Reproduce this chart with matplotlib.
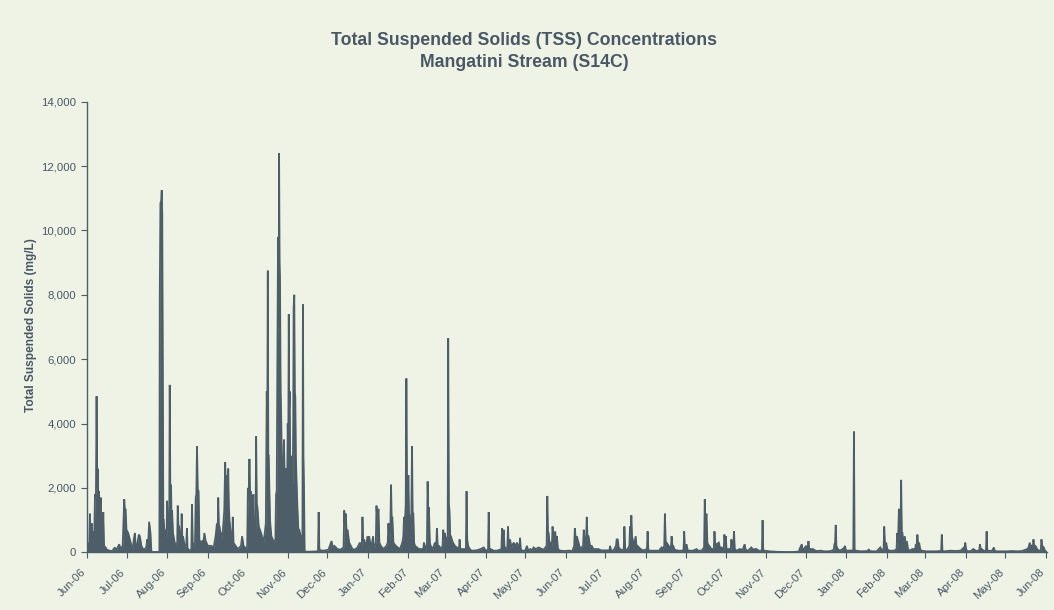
import numpy as np
import pandas as pd
import matplotlib
matplotlib.use("Agg")
import matplotlib.pyplot as plt
import matplotlib.dates as mdates
import matplotlib.transforms as mtransforms
from matplotlib import font_manager
from matplotlib.ticker import MultipleLocator, FuncFormatter

# ---------------- data (day offset from 1 Jun 2006, TSS mg/L) ----------------
start_date = "2006-06-01"
title_line1 = "Total Suspended Solids (TSS) Concentrations"
title_line2 = "Mangatini Stream (S14C)"
y_label = "Total Suspended Solids (mg/L)"

tss_jun_dec_2006 = [
    (0.0, 300), (0.5, 250), (1.5, 200), (2.0, 1200), (2.6, 400), (3.3, 900), (4.0, 300),
    (4.6, 650), (5.2, 300), (5.9, 1800), (6.6, 1700), (7.1, 4850), (7.6, 2000), (7.9, 2600),
    (8.4, 1800), (8.9, 1900), (9.6, 1000), (10.2, 1700), (11.0, 300), (11.7, 200), (12.2, 1250),
    (12.8, 200), (14.0, 150), (15.0, 80), (17.0, 50), (19.0, 40), (21.0, 150), (22.0, 60),
    (24.4, 250), (25.2, 100), (26.0, 150), (27.0, 200), (27.4, 700), (28.2, 1650), (28.7, 1300),
    (29.2, 1350), (29.9, 700), (31.2, 600), (32.5, 400), (33.7, 200), (34.8, 150), (35.5, 400),
    (36.3, 600), (37.0, 150), (38.0, 200), (39.3, 550), (40.1, 500), (41.3, 200), (42.5, 100),
    (43.9, 100), (45.0, 150), (45.7, 400), (46.5, 300), (47.2, 950), (48.2, 600), (48.9, 20),
    (50.0, 10), (55.0, 10), (55.3, 8000), (55.8, 10850), (56.3, 10900), (56.8, 11250),
    (57.2, 10500), (57.6, 6000), (58.0, 1000), (58.3, 1000), (59.1, 400), (59.8, 700),
    (60.4, 300), (60.9, 1600), (61.5, 700), (62.1, 1000), (62.5, 600), (62.9, 5200),
    (63.4, 1500), (63.9, 2100), (64.3, 1000), (64.7, 1300), (65.4, 600), (66.7, 300),
    (67.9, 200), (68.6, 300), (69.0, 1450), (69.5, 800), (70.0, 800), (71.0, 400), (71.6, 300),
    (72.0, 1200), (72.5, 400), (73.0, 500), (74.3, 200), (75.5, 200), (76.0, 750), (76.5, 100),
    (77.0, 100), (78.0, 50), (79.4, 100), (79.9, 1500), (80.5, 200), (81.1, 200), (82.2, 300),
    (82.7, 1700), (83.2, 1800), (83.7, 3300), (84.3, 1900), (84.9, 1900), (85.5, 400),
    (86.2, 300), (87.7, 350), (88.6, 300), (89.3, 600), (90.3, 350), (92.0, 200), (94.6, 200),
    (96.4, 150), (97.9, 500), (98.9, 900), (99.4, 400), (99.9, 1700), (100.4, 800),
    (100.9, 800), (102.2, 400), (103.5, 700), (104.5, 1300), (105.2, 2800), (105.8, 1800),
    (106.5, 2400), (107.0, 1200), (107.5, 2600), (108.0, 1400), (108.5, 1000), (109.8, 400),
    (110.5, 300), (111.0, 1100), (111.6, 250), (112.3, 250), (114.8, 100), (117.3, 200),
    (118.1, 500), (119.2, 200), (121.2, 100), (122.0, 200), (122.5, 2000), (123.0, 1600),
    (123.7, 2900), (124.2, 1800), (124.7, 1900), (125.7, 1300), (126.2, 900), (126.7, 1800),
    (127.2, 500), (127.7, 600), (128.3, 400), (128.8, 3600), (129.3, 1500), (129.8, 1400),
    (130.8, 800), (132.6, 600), (134.4, 300), (135.4, 600), (136.2, 900), (136.9, 5000),
    (137.3, 3800), (137.7, 8750), (138.1, 3000), (138.4, 3000), (139.4, 1000), (140.4, 500),
    (141.5, 400), (142.7, 300), (143.5, 400), (144.0, 1800), (144.5, 1900), (145.0, 5600),
    (145.5, 9800), (146.0, 7000), (146.3, 12400), (146.7, 9000), (147.0, 8500), (147.5, 5000),
    (148.0, 4000), (148.5, 2500), (149.0, 2000), (149.5, 2300), (150.0, 3500), (150.5, 2500),
    (151.0, 2600), (151.5, 2000), (152.1, 2600), (152.5, 2200), (152.9, 4000), (153.3, 3000),
    (153.7, 7400), (154.0, 4500), (154.4, 5000), (154.8, 2500), (155.2, 3000), (155.9, 1800),
    (156.3, 2000), (156.7, 2200), (157.1, 4000), (157.4, 7600), (157.9, 8000), (158.3, 5000),
    (158.7, 4800), (159.1, 3000), (159.5, 2400), (160.2, 1500), (161.0, 700), (161.7, 700),
    (162.8, 500), (163.8, 100), (164.1, 200), (164.5, 7700), (164.9, 3000), (165.3, 2000),
    (165.8, 50), (166.5, 20), (170.0, 20), (176.0, 30), (176.5, 1250), (177.0, 100),
    (178.0, 60), (180.0, 50), (184.0, 80), (186.3, 350), (187.2, 150), (188.4, 200),
    (190.9, 100), (193.0, 80), (195.5, 150), (196.0, 1300), (196.6, 800), (197.2, 1200),
    (197.8, 600), (198.5, 700), (199.8, 300), (202.3, 100), (204.0, 80), (206.1, 150),
    (207.9, 300), (209.4, 200), (209.9, 1100), (210.5, 300), (211.2, 400), (212.5, 100),
    (213.7, 500),
]

tss_2007 = [
    (214.3, 200), (215.0, 500), (216.5, 100), (218.0, 500), (218.6, 100), (220.1, 300),
    (220.6, 1450), (221.3, 900), (222.1, 1350), (222.8, 300), (223.9, 200), (226.0, 100),
    (228.2, 200), (229.2, 300), (229.7, 900), (230.5, 300), (231.2, 800), (231.7, 2100),
    (232.2, 1000), (232.7, 1100), (233.5, 300), (235.3, 200), (236.8, 150), (238.5, 100),
    (240.3, 300), (241.1, 500), (241.6, 1100), (242.2, 800), (242.9, 1500), (243.4, 5400),
    (243.9, 2000), (244.4, 1000), (244.9, 2400), (245.5, 1000), (246.2, 1000), (247.2, 1200),
    (247.7, 3300), (248.2, 1200), (248.7, 1200), (249.3, 300), (250.0, 200), (253.0, 100),
    (256.3, 100), (256.8, 300), (257.4, 100), (258.1, 100), (259.1, 300), (259.6, 2200),
    (260.1, 1200), (260.6, 1400), (261.3, 300), (261.9, 200), (263.5, 100), (265.2, 300),
    (266.2, 200), (266.7, 750), (267.3, 200), (268.2, 200), (270.0, 100), (271.0, 200),
    (271.5, 700), (272.2, 400), (272.8, 600), (273.3, 300), (273.8, 400), (274.9, 500),
    (275.3, 6650), (275.8, 1500), (276.3, 1300), (276.8, 500), (277.3, 500), (278.9, 300),
    (280.4, 200), (281.9, 150), (283.5, 100), (284.0, 400), (284.5, 100), (286.0, 100),
    (288.8, 100), (289.3, 1900), (289.8, 400), (290.5, 200), (292.0, 80), (293.6, 50),
    (297.0, 60), (299.9, 100), (302.4, 150), (304.0, 50), (305.7, 80), (306.2, 1250),
    (306.7, 100), (307.5, 100), (310.0, 50), (312.6, 50), (315.9, 100), (316.4, 750),
    (316.9, 300), (317.6, 700), (318.2, 200), (318.9, 100), (320.4, 150), (320.9, 800),
    (321.5, 200), (322.5, 400), (323.5, 150), (325.2, 300), (326.5, 200), (327.8, 300),
    (329.6, 100), (330.1, 450), (330.7, 100), (331.6, 50), (334.0, 50), (335.4, 200),
    (336.2, 60), (337.9, 100), (339.0, 60), (340.5, 150), (342.0, 100), (344.3, 150),
    (346.8, 100), (348.0, 80), (350.4, 200), (350.9, 1750), (351.4, 600), (351.9, 600),
    (352.5, 300), (353.1, 300), (354.4, 200), (354.9, 800), (355.5, 400), (356.9, 650),
    (357.5, 400), (358.2, 500), (359.0, 100), (360.7, 50), (364.0, 40), (367.1, 50),
    (370.0, 40), (371.4, 200), (371.9, 750), (372.6, 400), (373.4, 500), (374.7, 300),
    (376.0, 100), (378.2, 200), (378.7, 700), (379.5, 300), (380.5, 400), (381.0, 1100),
    (381.5, 500), (382.3, 500), (383.5, 200), (384.8, 200), (386.0, 100), (389.9, 100),
    (392.0, 60), (395.0, 60), (398.3, 60), (398.8, 200), (399.5, 60), (401.3, 50),
    (403.3, 200), (403.8, 400), (404.6, 400), (405.3, 150), (406.4, 100), (408.0, 60),
    (409.2, 100), (409.7, 800), (410.3, 100), (411.4, 50), (413.5, 200), (414.0, 800),
    (414.5, 600), (415.0, 1150), (415.5, 500), (416.0, 400), (417.0, 200), (418.3, 500),
    (418.9, 150), (419.6, 200), (422.1, 100), (424.0, 60), (426.9, 100), (427.4, 650),
    (428.0, 60), (429.2, 50), (433.0, 50), (436.0, 50), (438.1, 150), (439.0, 100),
    (440.1, 200), (440.6, 1200), (441.2, 300), (441.9, 300), (443.6, 200), (445.2, 100),
    (445.7, 500), (446.3, 200), (446.9, 200), (448.0, 80), (450.7, 50), (453.0, 50),
    (454.8, 60), (455.3, 650), (455.9, 100), (457.1, 250), (458.0, 60), (459.6, 50),
    (462.0, 50), (464.7, 100), (466.0, 50), (468.5, 50), (470.5, 150), (471.0, 1650),
    (471.5, 800), (472.3, 1200), (473.0, 300), (473.5, 250), (476.1, 100), (477.9, 100),
    (478.4, 650), (479.0, 200), (479.9, 250), (481.7, 300), (482.5, 150), (483.7, 150),
    (485.5, 100), (486.0, 550), (486.5, 250), (487.0, 500), (487.6, 100), (488.8, 100),
    (490.8, 100), (491.3, 400), (491.9, 200), (492.8, 200), (493.3, 650), (493.9, 100),
    (495.1, 50), (497.6, 100), (500.0, 80), (501.4, 250), (502.2, 80), (504.0, 50),
    (506.5, 150), (508.0, 80), (509.0, 100), (510.6, 100), (512.0, 50), (514.6, 50),
    (515.1, 1000), (515.6, 50), (516.6, 50), (520.4, 30), (526.0, 15), (532.0, 10),
    (538.0, 10), (542.8, 20), (543.3, 100), (545.0, 250), (545.6, 80), (546.6, 100),
    (548.3, 200), (549.5, 100), (550.1, 350), (550.7, 80), (551.6, 100), (553.4, 100),
    (556.0, 40), (559.7, 50), (562.0, 30), (564.8, 30), (567.0, 40), (569.4, 80),
    (569.9, 250), (570.4, 300), (570.9, 850), (571.4, 200), (572.4, 100), (574.0, 50),
    (576.2, 100), (577.5, 150), (578.0, 200), (578.6, 50),
]

tss_2008 = [
    (579.5, 50), (584.3, 60), (584.8, 3750), (585.3, 60), (586.3, 50), (590.2, 30),
    (595.5, 40), (596.0, 100), (596.5, 40), (599.0, 30), (602.0, 30), (604.9, 150),
    (606.0, 60), (607.4, 100), (607.9, 800), (608.5, 200), (609.4, 300), (610.2, 100),
    (611.7, 50), (615.5, 50), (617.3, 100), (617.8, 600), (618.4, 300), (619.1, 1350),
    (619.5, 900), (619.8, 1250), (620.3, 600), (620.8, 2250), (621.3, 600), (621.8, 600),
    (622.5, 200), (623.6, 500), (624.3, 150), (625.1, 350), (626.0, 100), (626.9, 50),
    (629.4, 100), (631.5, 100), (632.0, 250), (632.6, 200), (633.2, 550), (633.8, 200),
    (634.5, 300), (635.3, 100), (636.3, 50), (640.0, 30), (643.4, 30), (647.0, 30),
    (651.3, 40), (651.8, 550), (652.3, 40), (653.5, 30), (656.0, 40), (658.6, 50),
    (662.0, 40), (666.2, 50), (668.7, 150), (669.2, 100), (669.7, 300), (670.3, 100),
    (671.3, 30), (674.0, 40), (675.8, 100), (678.0, 40), (680.4, 60), (680.9, 250),
    (681.5, 80), (682.2, 100), (684.0, 40), (685.5, 60), (686.0, 650), (686.5, 50),
    (687.0, 50), (690.0, 40), (691.5, 150), (692.3, 40), (694.1, 30), (698.0, 30),
    (701.7, 30), (705.0, 40), (709.3, 30), (713.0, 40), (716.9, 100), (718.0, 150),
    (718.9, 300), (719.5, 150), (720.2, 200), (721.2, 150), (721.7, 400), (722.3, 200),
    (723.2, 200), (724.5, 100), (725.8, 50), (727.3, 60), (727.8, 400), (728.4, 200),
    (729.6, 150), (730.5, 50), (731.3, 30),
]

# ---------------- build series ----------------
records = tss_jun_dec_2006 + tss_2007 + tss_2008
day_offsets = np.array([r[0] for r in records])
tss_values = np.array([r[1] for r in records], dtype=float)
dates = (pd.Timestamp(start_date) + pd.to_timedelta(day_offsets, unit="D")).to_pydatetime()

# ---------------- fonts ----------------
installed = {f.name for f in font_manager.fontManager.ttflist}
has_narrow = "Liberation Sans Narrow" in installed
title_family = ["Liberation Sans Narrow", "Liberation Sans", "DejaVu Sans"] if has_narrow \
    else ["Liberation Sans", "DejaVu Sans"]
title_size = 13.5 if has_narrow else 12.7
reg_family = ["Liberation Sans", "DejaVu Sans"]

# ---------------- style ----------------
bg = "#eef3e6"
ink = "#4e5e69"
text_col = "#4a5865"

fig = plt.figure(figsize=(10.54, 6.10), dpi=100, facecolor=bg)
ax = fig.add_axes([0.0828, 0.0946, 0.9105, 0.7387])
ax.set_facecolor(bg)

ax.fill_between(dates, 0, tss_values, color=ink, linewidth=0)
ax.plot(dates, tss_values, color=ink, linewidth=1.3, solid_joinstyle="miter")

ax.set_xlim(pd.Timestamp("2006-06-01"), pd.Timestamp("2008-06-02"))
ax.set_ylim(0, 14000)

ax.yaxis.set_major_locator(MultipleLocator(2000))
ax.yaxis.set_major_formatter(FuncFormatter(lambda v, p: f"{int(v):,}"))
ax.xaxis.set_major_locator(mdates.MonthLocator())
ax.xaxis.set_major_formatter(mdates.DateFormatter("%b-%y"))

for s in ["top", "right"]:
    ax.spines[s].set_visible(False)
for s in ["left", "bottom"]:
    ax.spines[s].set_color(ink)
    ax.spines[s].set_linewidth(1.0)

ax.tick_params(axis="y", direction="out", length=4, width=0.8, color=ink,
               labelsize=8.2, labelcolor=text_col, pad=4)
ax.tick_params(axis="x", direction="out", length=4, width=0.8, color=ink,
               labelsize=8.2, labelcolor=text_col, pad=3)
for lbl in ax.get_yticklabels():
    lbl.set_family(reg_family)
shift = mtransforms.ScaledTranslation(-6 / 100, -5 / 100, fig.dpi_scale_trans)
for lbl in ax.get_xticklabels():
    lbl.set_family(reg_family)
    lbl.set_rotation(45)
    lbl.set_ha("right")
    lbl.set_va("top")
    lbl.set_rotation_mode("anchor")
    lbl.set_transform(lbl.get_transform() + shift)

ax.set_ylabel(y_label, fontsize=8.6, fontweight="bold", color=text_col, family=reg_family)
ax.yaxis.set_label_coords(-0.052, 0.505)

fig.text(0.497, 0.934, title_line1, ha="center", va="center", fontsize=title_size,
         fontweight="bold", color=text_col, family=title_family)
fig.text(0.497, 0.898, title_line2, ha="center", va="center", fontsize=title_size,
         fontweight="bold", color=text_col, family=title_family)

fig.savefig("out.png", dpi=100, facecolor=bg)
